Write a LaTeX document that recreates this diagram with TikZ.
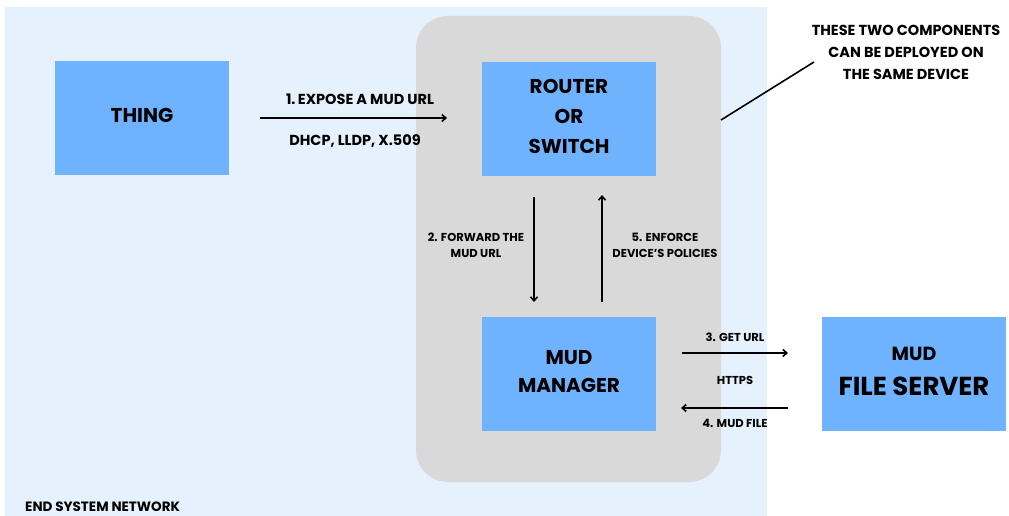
\documentclass[tikz,border=0pt]{standalone}
\usepackage{fontspec}
\setmainfont{Poppins}
\usetikzlibrary{arrows.meta}
\definecolor{netbg}{HTML}{E5F1FD}
\definecolor{grp}{HTML}{D9D9D9}
\definecolor{boxc}{HTML}{6FB3FF}
\tikzset{
  box/.style={fill=boxc, draw=none, minimum width=174pt, minimum height=114pt, inner sep=0pt, align=center, font=\bfseries\fontsize{20}{30}\selectfont},
  boxtxt/.style={inner sep=0pt, align=center, font=\bfseries\fontsize{20}{30}\selectfont},
  lbl/.style={font=\bfseries\fontsize{11.5}{16}\selectfont, align=center, inner sep=0pt},
  biglbl/.style={lbl, font=\bfseries\fontsize{14.5}{22}\selectfont},
  arr/.style={-{Straight Barb[length=4pt,width=7pt]}, line width=1.6pt},
}
\begin{document}
\begin{tikzpicture}[x=1pt,y=-1pt]
\useasboundingbox (0,0) rectangle (1009,516);
\fill[white] (0,0) rectangle (1009,516);
\fill[netbg] (5,7) rectangle (767,516);
\fill[grp, rounded corners=32pt] (416,16) rectangle (721,482);
\node[box] (thing) at (142,118) {};
\node[boxtxt] (thingt) at (142,115) {THING};
\node[box] (router) at (569,119) {};
\node[boxtxt] (routert) at (569,116) {ROUTER\\OR\\SWITCH};
\node[box] (mgr) at (569,374) {};
\node[boxtxt, font=\bfseries\fontsize{20}{28}\selectfont] (mgrt) at (569,372) {MUD\\MANAGER};
\node[box, minimum width=184pt] (srv) at (914,374) {};
\node[boxtxt, font=\bfseries\fontsize{19}{35}\selectfont] (srvt) at (914,371) {MUD\\{\fontsize{26}{30}\selectfont FILE SERVER}};
\coordinate (a1s) at (260,118);
\coordinate (a1e) at (447,118);
\draw[arr] (a1s) -- (a1e);
\node[biglbl] (l1) at (360,99) {1.\,EXPOSE A MUD URL};
\node[biglbl] (l1b) at (355,141) {DHCP, LLDP, X.509};
\coordinate (a2s) at (534,197);
\coordinate (a2e) at (534,302);
\draw[arr] (a2s) -- (a2e);
\node[lbl] (l2) at (476,245) {2. FORWARD THE\\MUD URL};
\coordinate (a5s) at (602,302);
\coordinate (a5e) at (602,195);
\draw[arr] (a5s) -- (a5e);
\node[lbl] (l5) at (665,245) {5. ENFORCE\\DEVICE’S POLICIES};
\coordinate (a3s) at (682,353);
\coordinate (a3e) at (788,353);
\draw[arr] (a3s) -- (a3e);
\node[lbl] (l3) at (735,337) {3. GET URL};
\node[lbl] (l34) at (735,380) {HTTPS};
\coordinate (a4s) at (788,408);
\coordinate (a4e) at (681,408);
\draw[arr] (a4s) -- (a4e);
\node[lbl] (l4) at (735,423) {4. MUD FILE};
\coordinate (c1) at (721,120);
\coordinate (c2) at (814,62);
\draw[line width=1.6pt] (c1) -- (c2);
\node[biglbl] (note) at (906,52) {THESE TWO COMPONENTS\\CAN BE DEPLOYED ON\\THE SAME DEVICE};
\node[lbl, font=\bfseries\fontsize{13.5}{16}\selectfont, anchor=west] (net) at (25,507) {END SYSTEM NETWORK};
\end{tikzpicture}
\end{document}
